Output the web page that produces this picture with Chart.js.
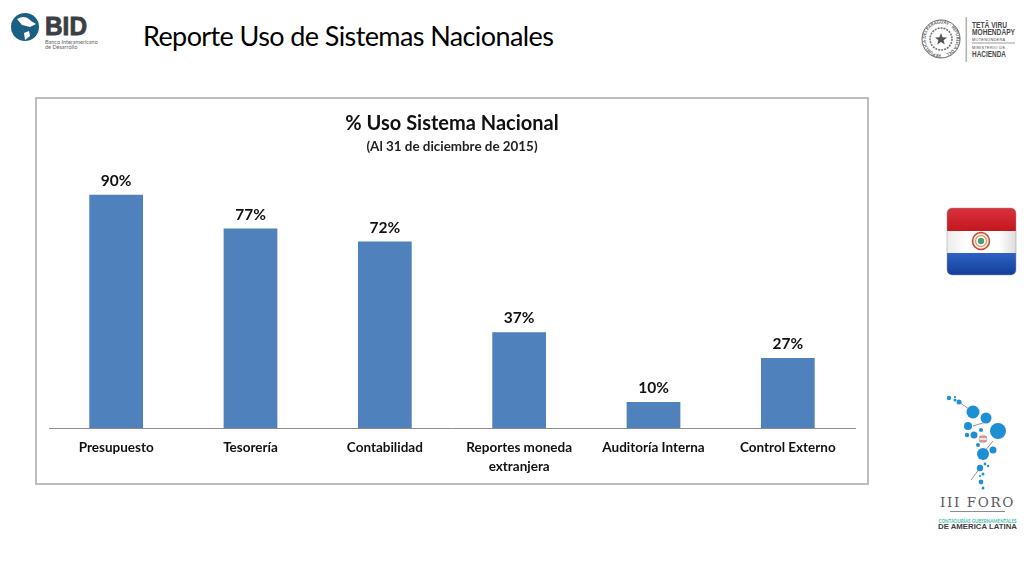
<!DOCTYPE html>
<html><head><meta charset="utf-8">
<style>
html,body{margin:0;padding:0;background:#fff;width:1024px;height:576px;overflow:hidden}
#page{position:absolute;left:0;top:0}
#frame{position:absolute;left:35px;top:97px;width:834px;height:388px;box-sizing:border-box;border:2px solid #bdbdbd;background:#fff}
#wrap{position:absolute;left:36px;top:98px;width:832px;height:386px}
#heading{position:absolute;left:143px;top:19px;font:27px Lato,sans-serif;color:#000;white-space:nowrap;letter-spacing:-0.6px}
</style></head><body>
<svg id="page" width="1024" height="576" xmlns="http://www.w3.org/2000/svg" font-family="Lato,sans-serif">
  <defs>
    <linearGradient id="r" x1="0" y1="0" x2="0" y2="1"><stop offset="0" stop-color="#d9323c"/><stop offset="1" stop-color="#c4161f"/></linearGradient>
    <linearGradient id="w" x1="0" y1="0" x2="1" y2="0"><stop offset="0" stop-color="#ececec"/><stop offset=".3" stop-color="#fff"/><stop offset=".75" stop-color="#fff"/><stop offset="1" stop-color="#dcdcdc"/></linearGradient>
    <linearGradient id="b" x1="0" y1="0" x2="0" y2="1"><stop offset="0" stop-color="#2f62c4"/><stop offset="1" stop-color="#123f9a"/></linearGradient>
    <clipPath id="fc"><rect x="947" y="208" width="69" height="67" rx="5"/></clipPath>
    <path id="ring" d="M941 54.5a15.5 15.5 0 1 1 .01 0"/>
  </defs>
  <!-- BID -->
  <circle cx="25" cy="27" r="14" fill="#1b5f82"/>
  <path d="M17 19q8-5 14 2l5 3-6 3-8-2zM24 33l5-2 1 5-5 4z" fill="#fff"/>
  <text x="45" y="35" font-size="26" font-weight="700" fill="#3b3f44" stroke="#3b3f44" stroke-width=".9" font-family="Liberation Sans" textLength="42" lengthAdjust="spacingAndGlyphs">BID</text>
  <text x="45" y="44" font-size="5.5" fill="#666">Banco Interamericano</text>
  <text x="45" y="49" font-size="5.5" fill="#666">de Desarrollo</text>
  <!-- seal -->
  <circle cx="941" cy="39" r="19" fill="#fff" stroke="#666" stroke-width="1"/>
  <circle cx="941" cy="39" r="11" fill="#fff" stroke="#777" stroke-width="1.6" stroke-dasharray="2 1"/>
  <text font-size="4.3" font-weight="700" fill="#555"><textPath href="#ring">REPUBLICA DEL PARAGUAY · REPUBLICA DEL</textPath></text>
  <path d="M941 33l1.6 4.2 4.4.2-3.4 2.8 1.2 4.3-3.8-2.5-3.8 2.5 1.2-4.3-3.4-2.8 4.4-.2z" fill="#555"/>
  <rect x="965.5" y="17" width="1.6" height="45" fill="#b5b5b5"/>
  <g fill="#4a4a4a" font-family="Liberation Sans" font-weight="700">
    <text x="972" y="28" font-size="8.5" textLength="35" lengthAdjust="spacingAndGlyphs">TETÃ VIRU</text>
    <text x="972" y="35" font-size="8.5" textLength="43" lengthAdjust="spacingAndGlyphs">MOHENDAPY</text>
    <text x="972" y="41" font-size="3.8" textLength="33" font-weight="400">MOTENONDERA</text>
    <text x="972" y="49" font-size="3.8" textLength="33" font-weight="400">MINISTERIO DE</text>
    <text x="972" y="57" font-size="8.5" textLength="34" lengthAdjust="spacingAndGlyphs">HACIENDA</text>
  </g>
  <rect x="972" y="42.5" width="43" height="1" fill="#9a9a9a"/>
  <!-- flag -->
  <g clip-path="url(#fc)">
    <rect x="947" y="208" width="69" height="23" fill="url(#r)"/>
    <rect x="947" y="231" width="69" height="22" fill="url(#w)"/>
    <rect x="947" y="253" width="69" height="22" fill="url(#b)"/>
  </g>
  <rect x="947" y="208" width="69" height="67" rx="5" fill="none" stroke="#999" stroke-opacity=".5"/>
  <circle cx="981" cy="241" r="8.5" fill="#f7e6dc" stroke="#c7443c" stroke-width="1.5"/>
  <circle cx="981" cy="241" r="5.4" fill="#fff" stroke="#c9a04a" stroke-width="1.2"/>
  <circle cx="981" cy="241" r="3.2" fill="#4f9a7d"/>
  <!-- foro -->
  <g stroke="#777" stroke-width=".8">
    <path d="M959 402l14 10M973 426l13-4M993 441l-9 11M980 468l-9 12"/>
  </g>
  <g fill="#1f8fd3">
    <circle cx="949" cy="398" r="2.2"/><circle cx="955" cy="397" r="1.1"/><circle cx="955" cy="400" r="1.5"/>
    <circle cx="959" cy="402" r="2.5"/><circle cx="973" cy="412" r="6.5"/><circle cx="986" cy="418" r="5.5"/>
    <circle cx="998" cy="431" r="8"/><circle cx="968" cy="426" r="4"/><circle cx="974" cy="435" r="3.5"/>
    <circle cx="967" cy="435" r="2.2"/><circle cx="981" cy="430" r="2"/><circle cx="978" cy="445" r="2"/>
    <circle cx="993" cy="450" r="3.5"/><circle cx="983" cy="454" r="6"/><circle cx="980" cy="468" r="3.2"/>
    <circle cx="985" cy="464" r="1.4"/><circle cx="988" cy="466" r="1.2"/><circle cx="983" cy="474" r="1.5"/>
    <circle cx="980" cy="476" r="1.1"/><circle cx="981" cy="482" r="2.4"/><circle cx="983" cy="488" r="1.5"/>
  </g>
  <circle cx="983" cy="439" r="4" fill="#f3e4e0" stroke="#bbb" stroke-width=".8"/>
  <path d="M979.5 437h7M979.5 441h7" stroke="#c9453e" stroke-width="1.2"/>
  <text x="977.5" y="507" font-size="13.5" text-anchor="middle" fill="#5a5a5a" font-family="DejaVu Serif" letter-spacing="1.6">III FORO</text>
  <rect x="950" y="511" width="55" height="1" fill="#8d8d8d"/>
  <text x="977.5" y="522.5" font-size="4.8" font-weight="700" text-anchor="middle" fill="#3fbdb0" textLength="78" lengthAdjust="spacingAndGlyphs">CONTADURÍAS GUBERNAMENTALES</text>
  <text x="977.5" y="529" font-size="7" font-weight="700" text-anchor="middle" fill="#3f3f3f" textLength="79" lengthAdjust="spacingAndGlyphs" font-family="Liberation Sans">DE AMERICA LATINA</text>
</svg>
<div id="heading">Reporte Uso de Sistemas Nacionales</div>
<div id="frame"></div>
<div id="wrap"><canvas id="c" width="832" height="386"></canvas></div>
<script src="https://cdn.jsdelivr.net/npm/chart.js@4/dist/chart.umd.min.js"></script>
<script>
const categories = [["Presupuesto"],["Tesorería"],["Contabilidad"],["Reportes moneda","extranjera"],["Auditoría Interna"],["Control Externo"]];
const usage = [90,77,72,37,10,27];
const chartTitle = "% Uso Sistema Nacional";
const chartSubtitle = "(Al 31 de diciembre de 2015)";

const barLabels = {
  id:'barLabels',
  afterDatasetsDraw(chart){
    const {ctx} = chart;
    ctx.save();
    ctx.font = 'bold 15.5px Lato,sans-serif';
    ctx.fillStyle = '#111';
    ctx.textAlign = 'center';
    ctx.textBaseline = 'bottom';
    chart.getDatasetMeta(0).data.forEach((el,i)=>{
      ctx.fillText(usage[i]+'%', el.x, el.y-6);
    });
    ctx.restore();
  }
};

new Chart(document.getElementById('c'),{
  type:'bar',
  data:{labels:categories,datasets:[{data:usage,backgroundColor:'#4f81bd',borderWidth:0,barPercentage:0.4,categoryPercentage:1}]},
  plugins:[barLabels],
  options:{
    responsive:false,animation:false,
    layout:{padding:{left:13,right:13,top:0,bottom:0}},
    plugins:{
      legend:{display:false},tooltip:{enabled:false},
      title:{display:true,text:chartTitle,color:'#111',font:{family:'Lato,sans-serif',size:20,weight:'bold'},padding:{top:13.5,bottom:0}},
      subtitle:{display:true,text:chartSubtitle,color:'#222',font:{family:'Lato,sans-serif',size:13.4,weight:'bold'},padding:{top:3,bottom:14.3}}
    },
    scales:{
      x:{
        grid:{display:false,drawTicks:false},
        border:{display:true,color:'#8e8e8e',width:1},
        ticks:{color:'#111',font:{family:'Lato,sans-serif',size:13.5,weight:'bold',lineHeight:1.4},padding:10,maxRotation:0,autoSkip:false},
        afterFit(s){s.height=56;}
      },
      y:{display:false,min:0,max:100}
    }
  }
});
</script>
</body></html>
